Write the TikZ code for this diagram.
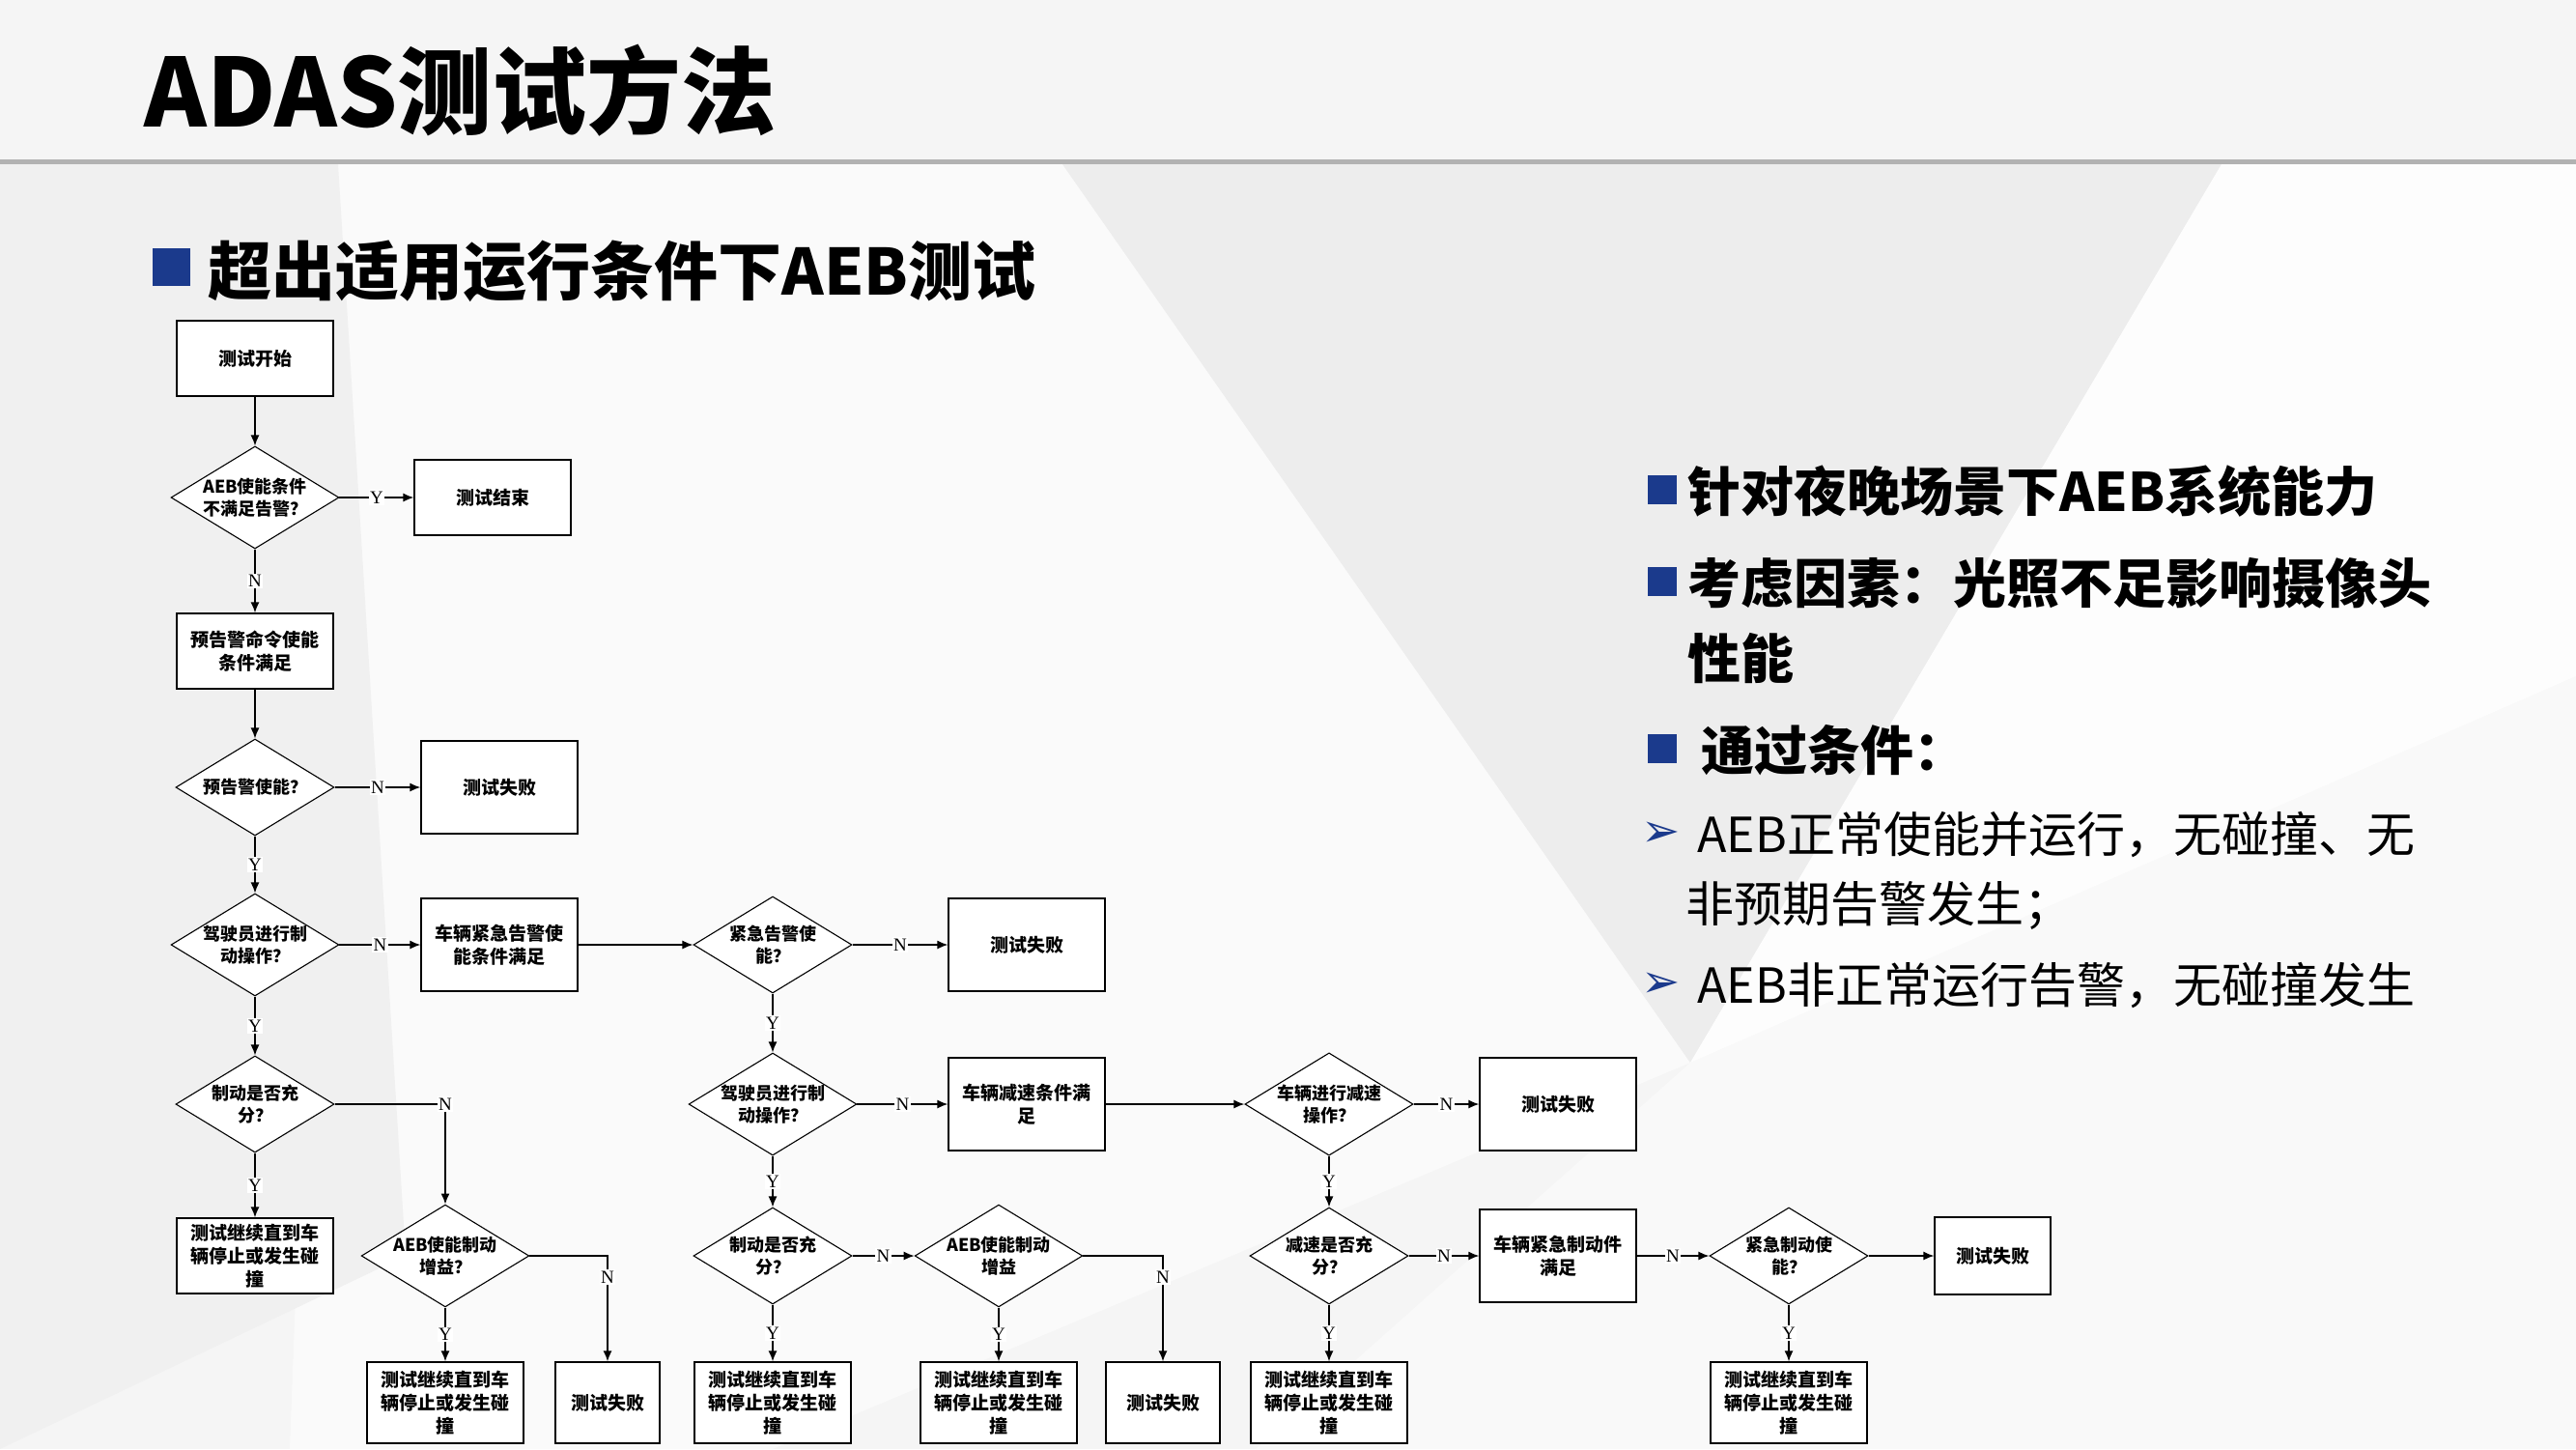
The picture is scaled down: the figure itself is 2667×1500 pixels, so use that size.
\documentclass[tikz,border=0pt]{standalone}
\usepackage{fontspec}
\usetikzlibrary{shapes.geometric,arrows.meta}
\newfontfamily\cjk{Noto Sans CJK SC}
\newfontfamily\yn{Liberation Serif}
\definecolor{navy}{HTML}{1B3A8C}
\begin{document}
\begin{tikzpicture}[x=1pt,y=-1pt,
 box/.style={draw=black,line width=1.3pt,fill=white,minimum width=162pt,minimum height=78pt,align=center,font=\cjk\bfseries\fontsize{19}{24}\selectfont,inner sep=2pt},
 sbox/.style={box,minimum width=108pt,minimum height=84pt},
 cbox/.style={box,minimum height=84pt},
 dia/.style={diamond,draw=black,line width=1.1pt,fill=white,minimum width=164pt,minimum height=100pt,aspect=1.64,align=center,inner sep=0pt,font=\cjk\bfseries\fontsize{18}{23}\selectfont},
 ar/.style={line width=1.4pt,-{Latex[length=11pt,width=9pt]}},
 lb/.style={fill=white,inner sep=1.5pt,font=\yn\fontsize{19}{19}\selectfont}]
\useasboundingbox (0,0) rectangle (2667,1500);
\fill[gray!8] (0,0) rectangle (2667,1500);
\fill[white!60!gray!10] (350,170) -- (1100,170) -- (1750,1100) -- (800,1500) -- (300,1500) -- cycle;
\fill[gray!14] (1100,170) -- (2300,170) -- (1750,1100) -- cycle;
\fill[gray!5] (1750,1100) -- (2667,700) -- (2667,1500) -- (1300,1500) -- cycle;
\fill[gray!12] (0,170) -- (350,170) -- (420,1300) -- (0,1500) -- cycle;
\fill[white!80!gray!8] (2300,170) -- (2667,170) -- (2667,700) -- (1750,1100) -- cycle;
\draw[gray!60,line width=5pt] (0,167) -- (2667,167);
\node[anchor=west,font=\cjk\bfseries\fontsize{98}{98}\selectfont] (title) at (146,94) {ADAS测试方法};
\fill[navy] (158,257) rectangle (197,296);
\node[anchor=west,font=\cjk\bfseries\fontsize{66}{66}\selectfont] (sub) at (212,281) {超出适用运行条件下AEB测试};
% right text
\fill[navy] (1706,492) rectangle (1736,522);
\node[anchor=west,font=\cjk\bfseries\fontsize{55}{55}\selectfont] (r1) at (1744,509) {针对夜晚场景下AEB系统能力};
\fill[navy] (1706,587) rectangle (1736,617);
\node[anchor=west,font=\cjk\bfseries\fontsize{55}{55}\selectfont] (r2) at (1744,604) {考虑因素：光照不足影响摄像头};
\node[anchor=west,font=\cjk\bfseries\fontsize{55}{55}\selectfont] (r3) at (1744,682) {性能};
\fill[navy] (1706,760) rectangle (1736,790);
\node[anchor=west,font=\cjk\bfseries\fontsize{55}{55}\selectfont] (r4) at (1758,777) {通过条件：};
\node[anchor=center,text=navy,font=\fontspec{DejaVu Sans}\fontsize{48}{48}\selectfont] (a1) at (1720,864) {➢};
\node[anchor=west,font=\cjk\fontsize{50}{50}\selectfont] (r5) at (1754,864) {AEB正常使能并运行，无碰撞、无};
\node[anchor=west,font=\cjk\fontsize{50}{50}\selectfont] (r6) at (1742,937) {非预期告警发生；};
\node[anchor=center,text=navy,font=\fontspec{DejaVu Sans}\fontsize{48}{48}\selectfont] (a2) at (1720,1020) {➢};
\node[anchor=west,font=\cjk\fontsize{50}{50}\selectfont] (r7) at (1754,1020) {AEB非正常运行告警，无碰撞发生};
% flowchart nodes
\node[box] (s) at (264,371) {测试开始};
\node[dia] (d1) at (264,515) {AEB使能条件\\不满足告警？};
\node[box] (e1) at (510,515) {测试结束};
\node[box] (b1) at (264,674) {预告警命令使能\\条件满足};
\node[dia] (d2) at (264,815) {预告警使能？};
\node[box,minimum height=96pt] (f1) at (517,815) {测试失败};
\node[dia] (d3) at (264,978) {驾驶员进行制\\动操作？};
\node[box,minimum height=96pt] (b2) at (517,978) {车辆紧急告警使\\能条件满足};
\node[dia] (d4) at (800,978) {紧急告警使\\能？};
\node[box,minimum height=96pt] (f2) at (1063,978) {测试失败};
\node[dia] (d5) at (264,1143) {制动是否充\\分？};
\node[box] (c1) at (264,1300) {测试继续直到车\\辆停止或发生碰\\撞};
\node[dia] (d6) at (461,1300) {AEB使能制动\\增益？};
\node[cbox] (c2) at (461,1452) {测试继续直到车\\辆停止或发生碰\\撞};
\node[sbox] (f3) at (629,1452) {测试失败};
\node[dia] (d7) at (800,1143) {驾驶员进行制\\动操作？};
\node[box,minimum height=96pt] (b3) at (1063,1143) {车辆减速条件满\\足};
\node[dia] (d8) at (1376,1143) {车辆进行减速\\操作？};
\node[box,minimum height=96pt] (f4) at (1613,1143) {测试失败};
\node[dia] (d9) at (800,1300) {制动是否充\\分？};
\node[dia] (d10) at (1034,1300) {AEB使能制动\\增益};
\node[cbox] (c3) at (800,1452) {测试继续直到车\\辆停止或发生碰\\撞};
\node[cbox] (c4) at (1034,1452) {测试继续直到车\\辆停止或发生碰\\撞};
\node[sbox,minimum width=118pt] (f5) at (1204,1452) {测试失败};
\node[dia] (d11) at (1376,1300) {减速是否充\\分？};
\node[box,minimum height=96pt] (b4) at (1613,1300) {车辆紧急制动件\\满足};
\node[dia] (d12) at (1852,1300) {紧急制动使\\能？};
\node[box,minimum width=120pt,minimum height=80pt] (f6) at (2063,1300) {测试失败};
\node[cbox] (c5) at (1376,1452) {测试继续直到车\\辆停止或发生碰\\撞};
\node[cbox] (c6) at (1852,1452) {测试继续直到车\\辆停止或发生碰\\撞};
% edges
\draw[ar] (s) -- (d1);
\draw[ar] (d1) -- node[lb]{Y} (e1);
\draw[ar] (d1) -- node[lb]{N} (b1);
\draw[ar] (b1) -- (d2);
\draw[ar] (d2) -- node[lb]{N} (f1);
\draw[ar] (d2) -- node[lb]{Y} (d3);
\draw[ar] (d3) -- node[lb]{N} (b2);
\draw[ar] (b2) -- (d4);
\draw[ar] (d4) -- node[lb]{N} (f2);
\draw[ar] (d3) -- node[lb]{Y} (d5);
\draw[ar] (d5) -- node[lb]{Y} (c1);
\draw[ar] (d5) -| node[lb]{N} (d6);
\draw[ar] (d6) -- node[lb]{Y} (c2);
\draw[ar] (d6) -| node[lb,pos=0.6]{N} (f3);
\draw[ar] (d4) -- node[lb]{Y} (d7);
\draw[ar] (d7) -- node[lb]{N} (b3);
\draw[ar] (b3) -- (d8);
\draw[ar] (d8) -- node[lb]{N} (f4);
\draw[ar] (d8) -- node[lb]{Y} (d11);
\draw[ar] (d7) -- node[lb]{Y} (d9);
\draw[ar] (d9) -- node[lb]{N} (d10);
\draw[ar] (d9) -- node[lb]{Y} (c3);
\draw[ar] (d10) -- node[lb]{Y} (c4);
\draw[ar] (d10) -| node[lb,pos=0.6]{N} (f5);
\draw[ar] (d11) -- node[lb]{Y} (c5);
\draw[ar] (d11) -- node[lb]{N} (b4);
\draw[ar] (b4) -- node[lb]{N} (d12);
\draw[ar] (d12) -- (f6);
\draw[ar] (d12) -- node[lb]{Y} (c6);
\end{tikzpicture}
\end{document}
